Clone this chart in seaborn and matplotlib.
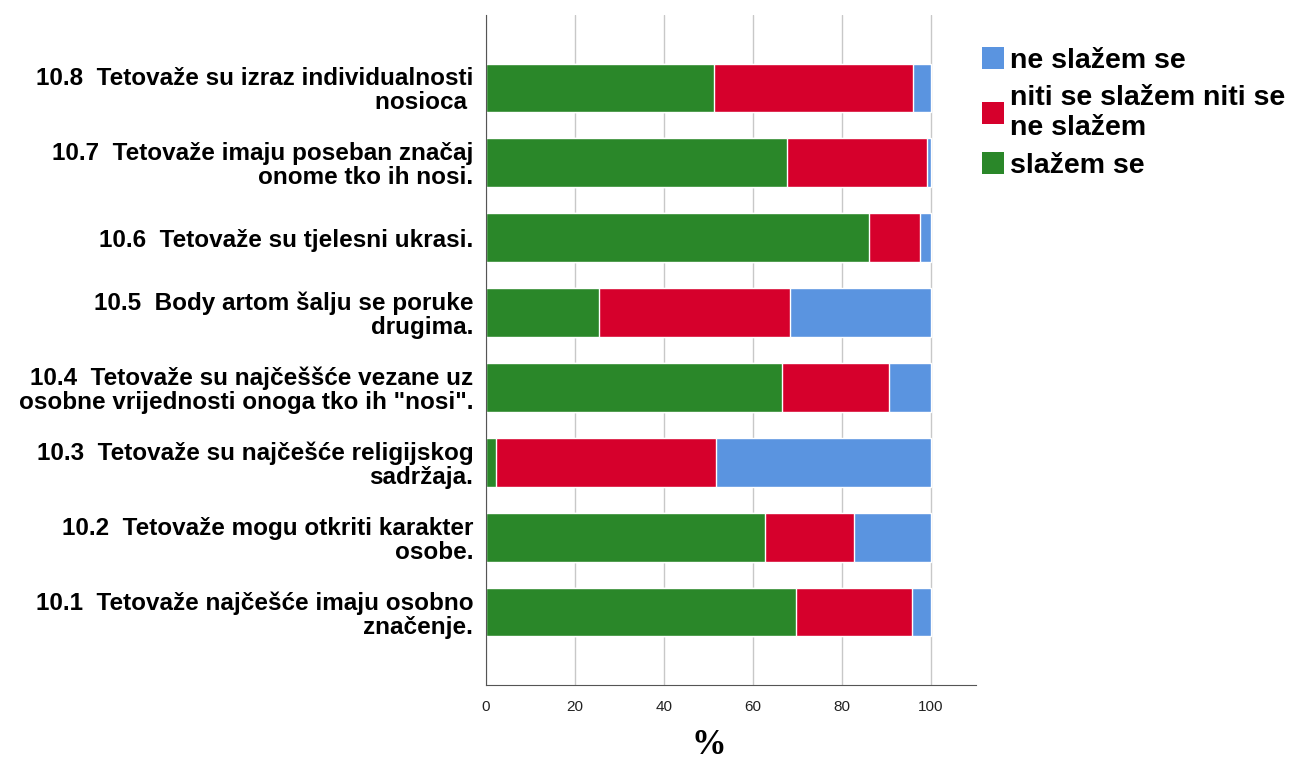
import matplotlib.pyplot as plt
import seaborn as sns
import pandas as pd
from matplotlib.patches import Patch

# 数据 (百分比)
labels = [
    '10.8  Tetovaže su izraz individualnosti\nnosioca ',
    '10.7  Tetovaže imaju poseban značaj\nonome tko ih nosi.',
    '10.6  Tetovaže su tjelesni ukrasi.',
    '10.5  Body artom šalju se poruke\ndrugima.',
    '10.4  Tetovaže su najčeššće vezane uz\nosobne vrijednosti onoga tko ih "nosi".',
    '10.3  Tetovaže su najčešće religijskog\nsadržaja.',
    '10.2  Tetovaže mogu otkriti karakter\nosobe.',
    '10.1  Tetovaže najčešće imaju osobno\nznačenje.',
]
slazem = [51.2, 67.7, 86.0, 25.5, 66.6, 2.2, 62.8, 69.7]
niti = [44.8, 31.3, 11.5, 42.9, 24.0, 49.6, 19.9, 26.0]
ne_slazem = [4.0, 1.0, 2.5, 31.6, 9.4, 48.2, 17.3, 4.3]

legend_labels = ['ne slažem se', 'niti se slažem niti se\nne slažem', 'slažem se']
colors = ['#5a94e0', '#d6002c', '#2a8729']

df = pd.DataFrame({'item': labels, 'slazem': slazem, 'niti': niti, 'ne': ne_slazem})
df['c_green'] = df['slazem']
df['c_red'] = df['slazem'] + df['niti']
df['c_blue'] = df['c_red'] + df['ne']

sns.set_style('white')
plt.rcParams['font.family'] = ['Liberation Sans', 'DejaVu Sans']
plt.rcParams['text.color'] = 'black'

fig = plt.figure(figsize=(12.99, 7.6), dpi=100)
ax = fig.add_axes([0.374, 0.099, 0.377, 0.881])

# 堆叠条形图: 先画总长, 再覆盖
sns.barplot(data=df, y='item', x='c_blue', color=colors[0], width=0.65, ax=ax, orient='h', saturation=1)
sns.barplot(data=df, y='item', x='c_red', color=colors[1], width=0.65, ax=ax, orient='h', saturation=1)
sns.barplot(data=df, y='item', x='c_green', color=colors[2], width=0.65, ax=ax, orient='h', saturation=1)

ax.set_xlim(0, 110)
ax.set_ylim(len(labels) - 0.03, -0.97)
ax.set_xticks([0, 20, 40, 60, 80, 100])
ax.xaxis.grid(True, color='#c8c8c8', linewidth=1)
ax.set_axisbelow(True)
for s in ['top', 'right']:
    ax.spines[s].set_visible(False)
for s in ['left', 'bottom']:
    ax.spines[s].set_color('#555555')
ax.tick_params(axis='x', labelsize=11, length=0, pad=11, labelcolor='#222222')
ax.tick_params(axis='y', labelsize=17.5, length=0, pad=9, labelcolor='black')
for t in ax.get_yticklabels():
    t.set_horizontalalignment('right')
    t.set_multialignment('right')
    t.set_fontweight('bold')
    t.set_linespacing(1.05)
ax.set_ylabel('')
ax.set_xlabel('')
ax.text(50, -0.09, '%', transform=ax.get_xaxis_transform(), ha='center', va='center',
        fontsize=25, fontweight='bold', family='Liberation Serif')

handles = [Patch(facecolor=c, edgecolor='none') for c in colors]
fig.legend(handles, legend_labels, loc='upper left', bbox_to_anchor=(0.736, 0.972),
           frameon=False, prop={'size': 20.5, 'weight': 'bold'}, handlelength=0.8,
           handleheight=0.8, handletextpad=0.2, labelspacing=0.4)

plt.savefig('out.png', dpi=100)
